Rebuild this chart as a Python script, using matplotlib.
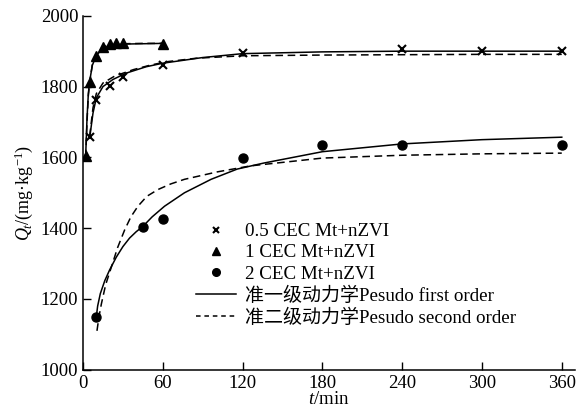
import matplotlib
matplotlib.use("Agg")
import matplotlib.pyplot as plt
from matplotlib.lines import Line2D

plt.rcParams['font.family'] = ['Liberation Serif', 'Noto Sans CJK SC']
plt.rcParams['mathtext.fontset'] = 'custom'
plt.rcParams['mathtext.rm'] = 'Liberation Serif'
plt.rcParams['mathtext.it'] = 'Liberation Serif:italic'

# experimental data
t_05 = [5, 10, 20, 30, 60, 120, 240, 300, 360]
q_05 = [1657, 1763, 1802, 1826, 1860, 1895, 1906, 1900, 1900]
t_1 = [2, 5, 10, 15, 20, 25, 30, 60]
q_1 = [1605, 1813, 1886, 1911, 1919, 1923, 1922, 1921]
t_2 = [10, 45, 60, 120, 180, 240, 360]
q_2 = [1150, 1404, 1426, 1598, 1636, 1636, 1636]

# fitted curves
f1_t05 = [5, 7.5, 10, 15, 22.5, 32.5, 47.5, 60, 90, 120, 180, 240, 300, 360]
f1_q05 = [1655, 1725, 1768, 1800, 1820, 1838, 1856, 1866, 1882, 1893, 1898, 1900, 1900, 1900]
f2_t05 = [5, 7.5, 10, 15, 24, 38, 50, 62.5, 85, 120, 180, 240, 300, 360]
f2_q05 = [1660, 1740, 1780, 1810, 1830, 1848, 1860, 1870, 1880, 1887, 1889, 1890, 1891, 1891]

f1_t1 = [2, 3, 4, 5, 7, 10, 15, 20, 30, 45, 60]
f1_q1 = [1605, 1710, 1780, 1815, 1860, 1888, 1908, 1915, 1920, 1921, 1922]
f2_t1 = [2, 3, 4, 5, 7, 10, 15, 20, 30, 45, 60]
f2_q1 = [1600, 1700, 1775, 1812, 1862, 1892, 1912, 1918, 1921, 1922, 1922]

f1_t2 = [10, 11, 13, 16.4, 20, 25, 30, 35, 40, 45, 52, 61.3, 76.3, 96.3, 116, 136, 180, 240, 300, 360]
f1_q2 = [1150, 1180, 1215, 1252, 1282, 1318, 1348, 1372, 1390, 1405, 1432, 1462, 1500, 1538, 1567, 1584, 1616, 1638, 1650, 1657]
f2_t2 = [10.5, 12, 13.8, 17, 21.3, 26, 31.3, 36, 41.3, 48, 56.3, 66, 76.3, 101, 126, 180, 240, 300, 360]
f2_q2 = [1110, 1150, 1186, 1240, 1290, 1345, 1395, 1432, 1462, 1490, 1509, 1525, 1538, 1559, 1576, 1598, 1606, 1610, 1612]

xticks = [0, 60, 120, 180, 240, 300, 360]
yticks = [1000, 1200, 1400, 1600, 1800, 2000]

labels = ['0.5 CEC Mt+nZVI', '1 CEC Mt+nZVI', '2 CEC Mt+nZVI',
          '准一级动力学Pesudo first order', '准二级动力学Pesudo second order']

fig = plt.figure(figsize=(5.83, 4.15), dpi=100)
ax = fig.add_axes([0.1424, 0.109, 0.844, 0.853])

lw = 1.1
for tt, qq in [(f1_t05, f1_q05), (f1_t1, f1_q1), (f1_t2, f1_q2)]:
    ax.plot(tt, qq, color='black', lw=lw, ls='-')
for tt, qq in [(f2_t05, f2_q05), (f2_t1, f2_q1), (f2_t2, f2_q2)]:
    ax.plot(tt, qq, color='black', lw=lw, ls=(0, (5, 3)))

ax.plot(t_05, q_05, ls='none', marker='x', ms=6, mew=1.5, color='black')
ax.plot(t_1, q_1, ls='none', marker='^', ms=6.5, color='black')
ax.plot(t_2, q_2, ls='none', marker='o', ms=6.5, color='black')

ax.set_xlim(0, 370)
ax.set_ylim(1000, 2000)
ax.set_xticks(xticks)
ax.set_yticks(yticks)
ax.tick_params(direction='in', length=6, width=1, labelsize=13.5)
ax.tick_params(axis='x', pad=4)
ax.spines['top'].set_visible(False)
ax.spines['right'].set_visible(False)
for s in ['left', 'bottom']:
    ax.spines[s].set_linewidth(1.1)

ax.set_xlabel('$t$/min', fontsize=13.5, labelpad=-1)
ax.set_ylabel('$Q_t$/(mg·kg$^{-1}$)', fontsize=13, labelpad=4)

handles = [
    Line2D([], [], ls='none', marker='x', ms=5, mew=1.5, color='black'),
    Line2D([], [], ls='none', marker='^', ms=5.5, color='black'),
    Line2D([], [], ls='none', marker='o', ms=5.5, color='black'),
    Line2D([], [], ls='-', lw=lw, color='black'),
    Line2D([], [], ls=(0, (3, 2.5)), lw=lw, color='black'),
]
leg = fig.legend(handles, labels, loc='upper left',
                 bbox_to_anchor=(196 / 583, 1 - 223 / 415),
                 frameon=False, fontsize=13.7, handlelength=2.1,
                 handletextpad=0.45, borderpad=0, borderaxespad=0,
                 labelspacing=0.2)

fig.savefig('out.png', dpi=100)
